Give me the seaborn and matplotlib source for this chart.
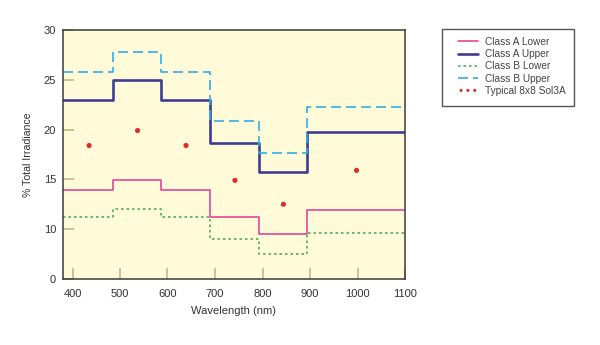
import matplotlib
matplotlib.use("Agg")
import matplotlib.pyplot as plt
from matplotlib.patches import Rectangle
import seaborn as sns
import pandas as pd

# Data
band_edges = [380, 485, 587, 689, 792, 894, 1100]
class_a_lower = [13.9, 14.9, 13.9, 11.2, 9.5, 11.9]
class_a_upper = [23.0, 25.0, 23.0, 18.7, 15.7, 19.8]
class_b_lower = [11.2, 12.0, 11.2, 9.0, 7.5, 9.6]
class_b_upper = [25.8, 27.8, 25.8, 20.9, 17.6, 22.3]
typical_x = [435, 537, 639, 742, 844, 998]
typical_y = [18.4, 19.9, 18.4, 14.9, 12.5, 15.9]
x_ticks = [400, 500, 600, 700, 800, 900, 1000, 1100]
y_ticks = [5, 10, 15, 20, 25, 30]
y_tick_labels = ["0", "10", "15", "20", "25", "30"]

sns.set_theme(style="white")
font = ["Liberation Sans Narrow", "Liberation Sans", "DejaVu Sans"]
plt.rcParams["font.family"] = font

fig = plt.figure(figsize=(6.0, 3.45), dpi=100)
ax = fig.add_axes([0.105, 0.1913, 0.57, 0.722])
ax.set_facecolor("#fffbd9")

series = [
    ("Class A Lower", class_a_lower, "#e0499b", "-", 1.2),
    ("Class A Upper", class_a_upper, "#3e3c93", "-", 1.9),
    ("Class B Lower", class_b_lower, "#4fae5a", (0, (1.5, 1.8)), 1.2),
    ("Class B Upper", class_b_upper, "#31aee6", (0, (6, 3)), 1.2),
]
for name, vals, col, ls, lw in series:
    df = pd.DataFrame({"x": band_edges, "y": vals + [vals[-1]]})
    sns.lineplot(data=df, x="x", y="y", ax=ax, drawstyle="steps-post",
                 color=col, linestyle=ls, linewidth=lw, label=name,
                 estimator=None, sort=False)

sns.scatterplot(x=typical_x, y=typical_y, ax=ax, color="#d9302c", s=14,
                edgecolor="none", label="Typical 8x8 Sol3A", zorder=5)

ax.set_xlim(380, 1100)
ax.set_ylim(5, 30)
ax.set_xticks(x_ticks)
ax.set_yticks(y_ticks)
ax.set_yticklabels(y_tick_labels)
ax.tick_params(axis="both", direction="in", length=8, width=1.3,
               color="#c9bd8e", labelsize=8, labelcolor="#333333",
               bottom=True, left=True)
ax.tick_params(axis="x", pad=7)
ax.tick_params(axis="y", pad=5)
for s in ax.spines.values():
    s.set_color("#3a3a3a")
    s.set_linewidth(1.1)

ax.set_xlabel("Wavelength (nm)", fontsize=8, color="#333333", labelpad=5)
ax.set_ylabel("% Total Irradiance", fontsize=7.6, color="#333333", labelpad=8)

handles, labels = ax.get_legend_handles_labels()
leg = ax.legend(handles, labels, loc="upper left",
                bbox_to_anchor=(458 / 600, 1 - 37 / 345),
                bbox_transform=fig.transFigure, fontsize=7.3,
                frameon=False, handlelength=1.95,
                borderpad=0, labelspacing=0.22, handletextpad=0.75,
                borderaxespad=0, scatterpoints=3, scatteryoffsets=[0.5],
                markerscale=0.6)
for t in leg.get_texts():
    t.set_color("#444444")

fig.patches.append(Rectangle((442 / 600, 1 - 106 / 345), 132 / 600, 77 / 345,
                             transform=fig.transFigure, fill=False,
                             edgecolor="#555555", linewidth=1.0))

fig.savefig("out.png", dpi=100, facecolor="white")
